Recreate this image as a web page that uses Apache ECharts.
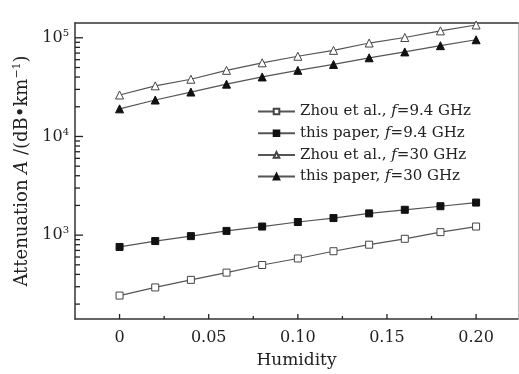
<!DOCTYPE html>
<html>
<head>
<meta charset="utf-8">
<script src="https://cdn.jsdelivr.net/npm/echarts@6/dist/echarts.min.js"></script>
<style>
html,body{margin:0;padding:0;background:#fff;}
#chart{width:519px;height:374px;}
</style>
</head>
<body>
<div id="chart"></div>
<script>
// Humidity values (x)
const humidity = [0, 0.02, 0.04, 0.06, 0.08, 0.10, 0.12, 0.14, 0.16, 0.18, 0.20];
// Attenuation (dB/km)
const zhou94 = [244, 295, 352, 417, 498, 580, 687, 800, 918, 1072, 1222];
const paper94 = [759, 871, 977, 1104, 1222, 1358, 1489, 1660, 1807, 1963, 2138];
const zhou30 = [26300, 32600, 38000, 46800, 55800, 65000, 74600, 88500, 100700, 117500, 134900];
const paper30 = [19050, 23400, 28200, 33900, 40100, 46800, 53700, 62700, 71900, 83200, 95500];
const seriesNames = ['Zhou et al., f=9.4 GHz', 'this paper, f=9.4 GHz', 'Zhou et al., f=30 GHz', 'this paper, f=30 GHz'];
// Tick labels
const xTickValues = [0, 0.05, 0.10, 0.15, 0.20];
const xMinorTicks = [0.025, 0.075, 0.125, 0.175];
const yTickValues = [1000, 10000, 100000];
const yMinorTicks = [200,300,400,500,600,700,800,900,2000,3000,4000,5000,6000,7000,8000,9000,20000,30000,40000,50000,60000,70000,80000,90000];

const X_MIN = -0.025, X_MAX = 0.2235, Y_MIN = 141.25, Y_MAX = 141254;
const FONT = 'DejaVu Serif';
const TXT = '#222';
const LINE = '#555';
const AX = '#333';
const TK = '#222';

function pairs(ys){ return humidity.map((x,i)=>[x, ys[i]]); }

const chart = echarts.init(document.getElementById('chart'));
function mkSeries(name, data, symbol, filled, size){
  return {
    name, type:'line', data:pairs(data), xAxisIndex:0, yAxisIndex:0,
    symbol, symbolSize:size, showAllSymbol:true,
    lineStyle:{color:LINE, width:1.2},
    itemStyle:{color: filled ? '#111' : '#fff', borderColor: filled ? '#111' : '#444', borderWidth:1},
    emphasis:{disabled:true}
  };
}
// tick marks drawn through the axes' own scales (api.coord)
const yTickData = yTickValues.map(v => [X_MIN, v, 8]).concat(yMinorTicks.map(v => [X_MIN, v, 5]));
const xTickData = xTickValues.map(v => [v, Y_MIN, 5]).concat(xMinorTicks.map(v => [v, Y_MIN, 3]));
function tickSeries(data, vertical){
  return {
    type:'custom', silent:true, clip:false, z:10, xAxisIndex:0, yAxisIndex:0,
    encode:{x:0, y:1}, data,
    renderItem: function(params, api){
      const p = api.coord([api.value(0), api.value(1)]);
      const len = api.value(2);
      const shape = vertical
        ? {x1:p[0], y1:p[1], x2:p[0], y2:p[1]-len}
        : {x1:p[0], y1:p[1], x2:p[0]+len, y2:p[1]};
      return {type:'line', shape, style:{stroke:TK, lineWidth:1.3}};
    }
  };
}
chart.setOption({
  animation:false,
  grid:{left:75, top:23, right:1, bottom:51},
  legend:{
    orient:'vertical', left:257, top:103, padding:0, itemWidth:37, itemHeight:7, itemGap:4.7,
    data: seriesNames,
    textStyle:{fontFamily:FONT, fontSize:15, color:TXT, lineHeight:17,
      rich:{n:{fontFamily:FONT,fontSize:15,color:TXT,lineHeight:17}, i:{fontFamily:FONT,fontSize:15,fontStyle:'italic',color:TXT,lineHeight:17}}},
    formatter: function(name){
      const parts = name.split('f=');
      return '{n|' + parts[0] + '}{i|f}{n|=' + parts[1] + '}';
    }
  },
  xAxis:[
    {type:'value', min:X_MIN, max:X_MAX, position:'bottom', splitLine:{show:false},
      name:'Humidity', nameLocation:'middle', nameGap:33,
      nameTextStyle:{fontFamily:FONT, fontSize:17, color:TXT},
      axisLine:{show:true, onZero:false, lineStyle:{color:AX, width:1.5}},
      axisTick:{show:false},
      axisLabel:{show:true, margin:11, customValues:xTickValues, fontFamily:FONT, fontSize:16, color:TXT,
        formatter: v => v === 0 ? '0' : v.toFixed(2)}},
    {type:'value', min:X_MIN, max:X_MAX, position:'top', splitLine:{show:false},
      axisLine:{show:true, onZero:false, lineStyle:{color:AX, width:1.5}},
      axisTick:{show:false}, axisLabel:{show:false}}
  ],
  yAxis:[
    {type:'log', min:Y_MIN, max:Y_MAX, position:'left', splitLine:{show:false},
      name:'{n|Attenuation }{i|A}{n| /(dB•km}{s|−1}{n|)}',
      nameLocation:'middle', nameGap:30, nameRotate:90,
      nameTextStyle:{fontFamily:FONT, fontSize:18, color:TXT,
        rich:{n:{fontFamily:FONT,fontSize:18,color:TXT,lineHeight:21},
              i:{fontFamily:FONT,fontSize:18,fontStyle:'italic',color:TXT,lineHeight:21},
              s:{fontFamily:FONT,fontSize:11,color:TXT,verticalAlign:'top',lineHeight:21}}},
      axisLine:{show:true, onZero:false, lineStyle:{color:AX, width:1.5}},
      axisTick:{show:false},
      axisLabel:{show:true, margin:6, customValues:yTickValues,
        fontFamily:FONT, fontSize:16, color:TXT,
        formatter: v => '{b|10}{s|' + Math.round(Math.log10(v)) + '}',
        rich:{b:{fontFamily:FONT,fontSize:16,color:TXT,lineHeight:19},
              s:{fontFamily:FONT,fontSize:10,color:TXT,verticalAlign:'top',lineHeight:19}}}},
    {type:'log', min:Y_MIN, max:Y_MAX, position:'right', splitLine:{show:false},
      axisLine:{show:true, onZero:false, lineStyle:{color:'#bbb', width:1}},
      axisTick:{show:false}, axisLabel:{show:false}}
  ],
  series:[
    mkSeries(seriesNames[0], zhou94, 'rect', false, 7),
    mkSeries(seriesNames[1], paper94, 'rect', true, 7),
    mkSeries(seriesNames[2], zhou30, 'triangle', false, 8),
    mkSeries(seriesNames[3], paper30, 'triangle', true, 8),
    tickSeries(yTickData, false),
    tickSeries(xTickData, true)
  ]
});
</script>
</body>
</html>
